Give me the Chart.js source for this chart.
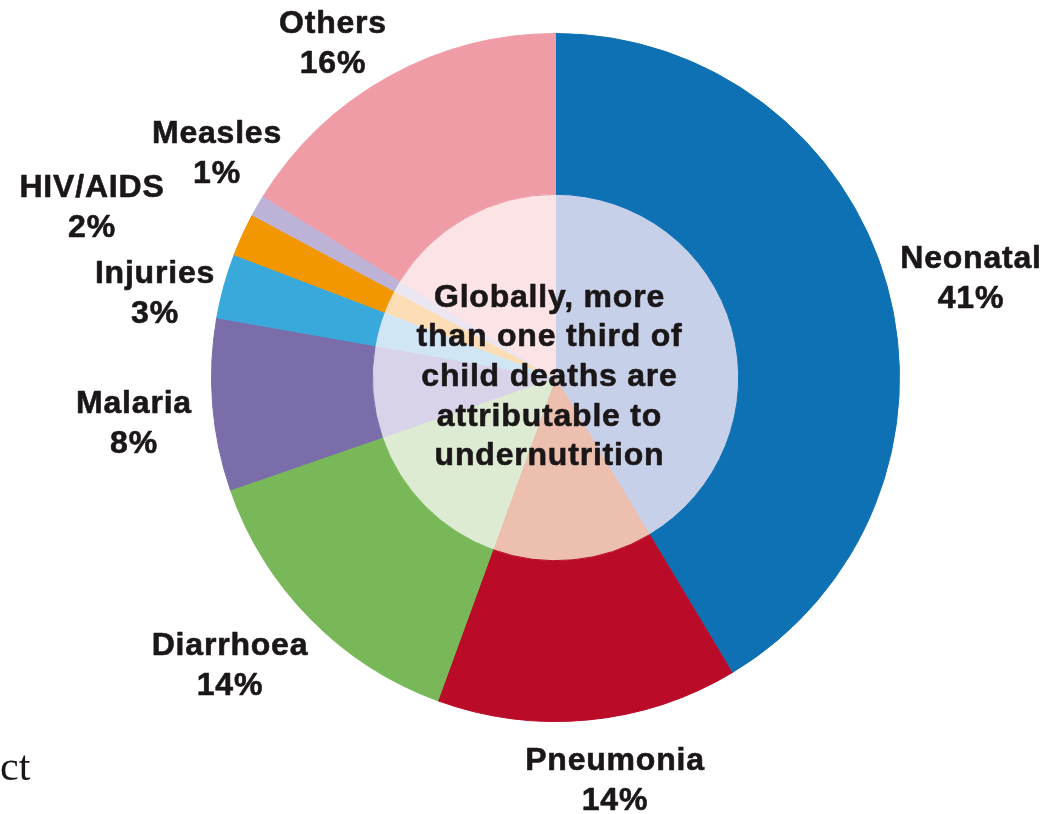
<!DOCTYPE html>
<html>
<head>
<meta charset="utf-8">
<script src="https://cdn.jsdelivr.net/npm/chart.js@4"></script>
<style>
  html, body { margin: 0; padding: 0; background: #ffffff; }
  #wrap { width: 1054px; height: 814px; position: relative; }
</style>
</head>
<body>
<div id="wrap"><canvas id="c" width="1054" height="814"></canvas></div>
<script>
// ---- data ----
const categories = ['Neonatal', 'Pneumonia', 'Diarrhoea', 'Malaria', 'Injuries', 'HIV/AIDS', 'Measles', 'Others'];
const shares = [41, 14, 14, 8, 3, 2, 1, 16];
const percentLabels = ['41%', '14%', '14%', '8%', '3%', '2%', '1%', '16%'];
const centerLines = ['Globally, more', 'than one third of', 'child deaths are', 'attributable to', 'undernutrition'];
const pageFragment = 'ct';

// ---- styles ----
const outerColors = ['#0E71B4', '#BA0C29', '#79B859', '#7A6DAA', '#39A9DB', '#F39700', '#BCB3D6', '#EF9CA6'];
const innerColors = ['#C6D0E8', '#ECBFAE', '#DDEBD2', '#D8D3E8', '#D0E6F5', '#FDDDB5', '#EAE6F2', '#FBE3E6'];
// label anchor positions (centre x, first baseline y)
const labelAnchors = [
  [971, 268], [615, 770], [230, 655], [134, 413],
  [155, 283], [92, 197], [217, 143], [333, 33]
];
const textColor = '#1b1718';

function boldText(ctx, t, x, y) {
  ctx.fillText(t, x, y);
  ctx.strokeText(t, x, y);
}

const labelPlugin = {
  id: 'labels',
  afterDraw(chart) {
    const ctx = chart.ctx;
    ctx.save();
    ctx.fillStyle = textColor;
    ctx.strokeStyle = textColor;
    ctx.lineWidth = 0.6;
    ctx.lineJoin = 'round';
    ctx.textAlign = 'center';
    ctx.textBaseline = 'alphabetic';
    ctx.font = 'bold 32px "Liberation Sans", Arial, sans-serif';
    if ('letterSpacing' in ctx) ctx.letterSpacing = '0.8px';
    categories.forEach((cat, i) => {
      const [x, y] = labelAnchors[i];
      boldText(ctx, cat, x, y);
      boldText(ctx, percentLabels[i], x, y + 40);
    });
    // centre text
    const meta = chart.getDatasetMeta(0);
    const arc = meta.data[0];
    const cx = arc.x - 6, cy = arc.y;
    const lh = 39.7;
    const first = cy - 71;
    centerLines.forEach((t, i) => boldText(ctx, t, cx, first + i * lh));
    // page fragment
    if ('letterSpacing' in ctx) ctx.letterSpacing = '0px';
    ctx.textAlign = 'left';
    ctx.font = '42px "Liberation Serif", "Times New Roman", serif';
    ctx.fillText(pageFragment, 0, 780);
    ctx.restore();
  }
};

new Chart(document.getElementById('c'), {
  type: 'doughnut',
  data: {
    labels: categories,
    datasets: [
      {
        data: shares,
        backgroundColor: outerColors,
        borderColor: outerColors,
        borderWidth: 1,
        weight: 161
      },
      {
        data: shares,
        backgroundColor: innerColors,
        borderColor: innerColors,
        borderWidth: 1,
        weight: 183.4
      }
    ]
  },
  options: {
    responsive: false,
    animation: false,
    cutout: 0,
    layout: { padding: { left: 211, right: 154, top: 33, bottom: 92 } },
    plugins: {
      legend: { display: false },
      tooltip: { enabled: false }
    }
  },
  plugins: [labelPlugin]
});
</script>
</body>
</html>
